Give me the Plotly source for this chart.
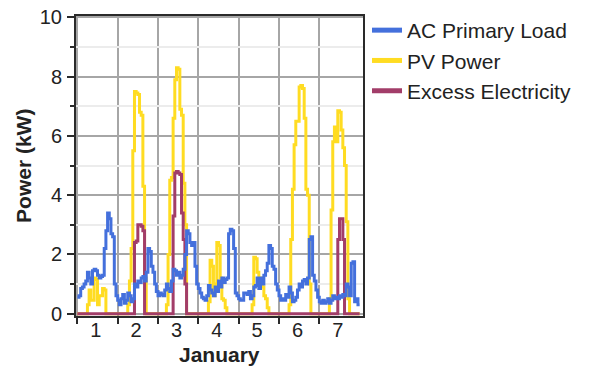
import plotly.graph_objects as go

# Hourly values (kW) for the first week of January, one list per day
load_days = [
    [0.55,0.6,0.85,0.9,1.0,1.1,1.4,1.2,1.0,1.45,1.5,1.45,1.3,1.2,1.25,1.3,2.2,2.8,3.4,3.2,2.7,2.6,1.0,0.6],
    [0.45,0.3,0.5,0.65,0.35,0.45,0.7,0.6,0.4,0.5,1.0,0.9,1.1,1.05,1.2,1.25,1.1,1.4,2.2,2.1,1.6,1.4,1.0,0.75],
    [0.6,0.7,0.65,0.6,0.8,1.0,0.85,0.75,1.1,1.5,1.45,1.3,1.4,1.2,1.3,1.5,2.0,2.8,2.7,2.4,2.3,2.4,1.6,1.0],
    [0.85,0.7,0.55,0.5,0.45,0.6,0.95,0.8,0.7,0.6,0.9,0.75,1.1,0.9,1.2,1.05,1.15,1.2,2.7,2.85,2.8,2.2,0.7,0.6],
    [0.5,0.45,0.45,0.7,0.7,0.65,0.75,0.5,0.6,0.9,0.95,1.2,0.85,1.2,1.0,1.3,1.45,1.7,2.3,2.2,1.6,1.5,1.0,0.8],
    [0.6,0.45,0.5,0.45,0.65,0.55,0.9,0.7,0.4,0.45,0.55,0.8,1.0,0.9,1.1,1.15,1.0,1.2,2.5,2.6,1.3,1.1,0.8,0.55],
    [0.4,0.35,0.45,0.35,0.4,0.5,0.35,0.45,0.6,0.5,0.55,0.5,0.6,0.55,0.65,0.6,1.0,0.9,0.6,1.7,1.75,0.4,0.5,0.3],
]
pv_days = [
    [0,0,0,0,0,0,0.3,0.8,0.45,0.45,1.2,1.15,0.3,0.6,0.6,0.85,0.8,0,0,0,0,0,0,0],
    [0,0,0,0,0,0,0.3,1.1,2.2,5.5,7.5,7.45,7.4,6.8,6.7,4.3,1.2,0,0,0,0,0,0,0],
    [0,0,0,0,0,0.3,2.0,4.5,4.6,6.6,7.9,8.3,8.25,6.9,6.7,4.4,3.0,0,0,0,0,0,0,0],
    [0,0,0,0,0,0,0.4,1.8,1.6,0.6,1.0,2.4,2.3,1.2,0.5,0.45,0.2,0,0,0,0,0,0,0],
    [0,0,0,0,0,0,0,0,0.3,1.9,1.85,1.4,1.1,1.2,0.9,0.6,0.5,0.2,0,0,0,0,0,0],
    [0,0,0,0,0,0,0.3,2.5,4.2,5.7,6.5,6.5,7.65,7.7,7.6,6.6,4.2,4.0,1.0,0,0,0,0,0],
    [0,0,0,0,0,0,0.5,3.5,5.8,6.3,5.8,6.85,6.8,6.2,5.6,5.0,3.1,0.5,0,0,0,0,0,0],
]
excess_days = [
    [0]*24,
    [0,0,0,0,0,0,0,0,0,0,2.4,2.45,3.0,3.0,2.95,2.8,0,0,0,0,0,0,0,0],
    [0,0,0,0,0,0,0,0,0,3.3,4.75,4.8,4.75,4.7,3.4,2.5,1.0,0,0,0,0,0,0,0],
    [0]*24,
    [0]*24,
    [0]*24,
    [0,0,0,0,0,0,0,0,0,0,0,2.5,3.2,3.2,2.5,0,0,0,0,0,0,0,0,0],
]
day_labels = ["1", "2", "3", "4", "5", "6", "7"]
series_names = ["AC Primary Load", "PV Power", "Excess Electricity"]
colors = {"AC Primary Load": "#4470dc", "PV Power": "#ffdc22", "Excess Electricity": "#a23d69"}

def flatten(days):
    vals = [v for d in days for v in d]
    return vals + [vals[-1]]

load = flatten(load_days)
pv = flatten(pv_days)
excess = flatten(excess_days)
hours = list(range(len(load)))

fig = go.Figure()
# drawing order: PV at bottom, excess, then load on top
for name, vals in [("PV Power", pv), ("Excess Electricity", excess), ("AC Primary Load", load)]:
    fig.add_trace(go.Scatter(x=hours, y=vals, mode="lines", line=dict(color=colors[name], width=3, shape="hv"),
                             showlegend=False, hoverinfo="skip"))
# legend entries
for i, name in enumerate(series_names):
    fig.add_trace(go.Scatter(x=[None], y=[None], mode="lines", name=name,
                             line=dict(color=colors[name], width=5), legendrank=i + 1))

font_family = "Liberation Sans, Arial, sans-serif"
fig.update_layout(
    width=591, height=367,
    margin=dict(l=76, r=228, t=16, b=51, autoexpand=False),
    paper_bgcolor="white", plot_bgcolor="white",
    font=dict(family=font_family, size=20, color="#222"),
    legend=dict(x=1.014, y=1.02, xanchor="left", yanchor="top", font=dict(size=21, color="#222"),
                itemwidth=30, tracegroupgap=0, bgcolor="rgba(0,0,0,0)"),
    xaxis=dict(range=[-0.8, 170], tickvals=[11 + 24 * i for i in range(7)], ticktext=day_labels,
               ticks="", ticklen=0, showgrid=False, zeroline=False, showline=True, mirror=True, automargin=False,
               linecolor="#2a2a2a", linewidth=2, ticklabelstandoff=-5, ticklabeloverflow="allow",
               minor=dict(tickvals=[24 * i for i in range(7)], ticks="outside", ticklen=6, tickwidth=2,
                          tickcolor="#2a2a2a", showgrid=True, gridcolor="#a6a6a6", gridwidth=2)),
    yaxis=dict(range=[-0.08, 10.05], tickvals=[0, 2, 4, 6, 8, 10], ticks="outside", ticklen=7, tickwidth=2,
               tickcolor="#2a2a2a", showgrid=True, gridcolor="#a6a6a6", gridwidth=2, zeroline=False,
               showline=True, mirror=True, linecolor="#2a2a2a", linewidth=2, ticklabelstandoff=1,
               automargin=False, ticklabeloverflow="allow",
               minor=dict(tickvals=[1, 3, 5, 7, 9], ticks="outside", ticklen=4, tickwidth=2, tickcolor="#2a2a2a",
                          showgrid=True, gridcolor="#ececec", gridwidth=2)),
    annotations=[
        dict(text="<b>January</b>", xref="paper", yref="paper", x=0.5, y=-0.13, xanchor="center",
             yanchor="middle", showarrow=False, font=dict(size=21, color="#222")),
        dict(text="<b>Power (kW)</b>", xref="paper", yref="paper", x=-0.185, y=0.5, xanchor="center",
             yanchor="middle", textangle=-90, showarrow=False, font=dict(size=21, color="#222")),
    ],
)
fig.write_html("out.html", config={"displayModeBar": False},
               post_script="document.body.style.margin='0';document.body.style.overflow='hidden';")
